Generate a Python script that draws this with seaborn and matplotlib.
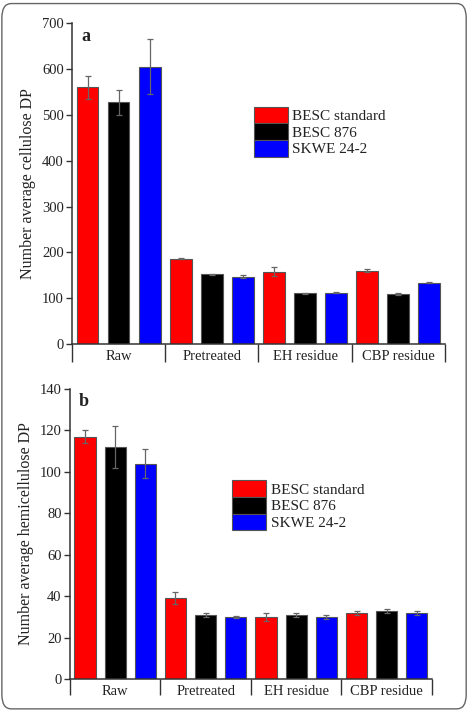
import numpy as np
import pandas as pd
import matplotlib
matplotlib.use("Agg")
import matplotlib.pyplot as plt
from matplotlib.patches import FancyBboxPatch
import seaborn as sns

# Data
stages = ["Raw", "Pretreated", "EH residue", "CBP residue"]
lines = ["BESC standard", "BESC 876", "SKWE 24-2"]
colors = ["#ff0000", "#000000", "#0000ff"]

cell_dp = {
    "BESC standard": [560, 186, 158, 160],
    "BESC 876": [527, 152, 111, 109],
    "SKWE 24-2": [605, 147, 112, 134],
}
cell_err = {
    "BESC standard": [25, 1, 10, 3],
    "BESC 876": [28, 1, 1, 2],
    "SKWE 24-2": [60, 3, 1, 1],
}
hemi_dp = {
    "BESC standard": [117, 39, 30, 32],
    "BESC 876": [112, 31, 31, 33],
    "SKWE 24-2": [104, 30, 30, 32],
}
hemi_err = {
    "BESC standard": [3, 3, 2, 1],
    "BESC 876": [10, 1, 1, 1],
    "SKWE 24-2": [7, 0.5, 1, 1],
}

sns.set_style("ticks")
plt.rcParams['font.family'] = ['Liberation Serif', 'DejaVu Serif']
plt.rcParams['text.color'] = '#222222'
plt.rcParams['axes.labelcolor'] = '#222222'
plt.rcParams['xtick.color'] = '#333333'
plt.rcParams['ytick.color'] = '#333333'
plt.rcParams['xtick.labelcolor'] = '#222222'
plt.rcParams['ytick.labelcolor'] = '#222222'


def long_df(vals):
    rows = []
    for ln in lines:
        for st, v in zip(stages, vals[ln]):
            rows.append({"stage": st, "line": ln, "dp": v})
    return pd.DataFrame(rows)


def panel(ax, vals, errs, ymax, ystep, ylabel, letter, leg_xy, sep_len):
    df = long_df(vals)
    sns.barplot(data=df, x="stage", y="dp", hue="line", order=stages,
                hue_order=lines, palette=colors, saturation=1, width=1.0,
                gap=0.3, errorbar=None, edgecolor="#555555", linewidth=0.8,
                ax=ax)
    for cont, ln in zip(ax.containers, lines):
        xs = [b.get_x() + b.get_width() / 2 for b in cont]
        ax.errorbar(xs, vals[ln], yerr=errs[ln], fmt="none", ecolor="#666666",
                    elinewidth=0.9, capsize=2.5, capthick=0.9, zorder=3)
    ax.set_xlim(-0.5, 3.5)
    ax.set_ylim(0, ymax)
    ax.set_yticks(np.arange(0, ymax + 1, ystep))
    ax.set_xlabel("")
    ax.set_ylabel(ylabel, fontsize=11.5)
    ax.set_xticks(np.arange(-0.5, 3.6, 1), minor=True)
    ax.tick_params(axis="x", which="major", length=0, pad=4, labelsize=10.5)
    ax.tick_params(axis="x", which="minor", length=sep_len, width=1.0,
                   direction="out")
    ax.tick_params(axis="y", length=4, width=1.0, labelsize=10.5, pad=2)
    for s in ["top", "right"]:
        ax.spines[s].set_visible(False)
    for s in ["left", "bottom"]:
        ax.spines[s].set_color("#333333")
        ax.spines[s].set_linewidth(1.1)
    ax.text(0.025, 0.985, letter, transform=ax.transAxes, fontsize=13,
            fontweight="bold", va="top", ha="left")
    sns.move_legend(ax, "upper left", bbox_to_anchor=leg_xy, frameon=False,
                    title=None, fontsize=11, handlelength=2.2,
                    handleheight=1.3, labelspacing=0.0, handletextpad=0.3,
                    borderpad=0, borderaxespad=0)


fig = plt.figure(figsize=(4.69, 7.11), dpi=100)
ax_a = fig.add_axes([0.1535, 0.516, 0.795, 0.4515])
ax_b = fig.add_axes([0.149, 0.045, 0.772, 0.408])

panel(ax_a, cell_dp, cell_err, 700, 100, "Number average cellulose DP",
      "a", (0.488, 0.74), 13)
panel(ax_b, hemi_dp, hemi_err, 140, 20, "Number average hemicellulose DP",
      "b", (0.449, 0.685), 11.5)

fig.patches.append(FancyBboxPatch((0.004, 0.003), 0.99, 0.992,
                                  boxstyle="round,pad=0,rounding_size=0.02",
                                  transform=fig.transFigure, fill=False,
                                  edgecolor="#666666", linewidth=1.0))

fig.savefig("out.png", dpi=100)
